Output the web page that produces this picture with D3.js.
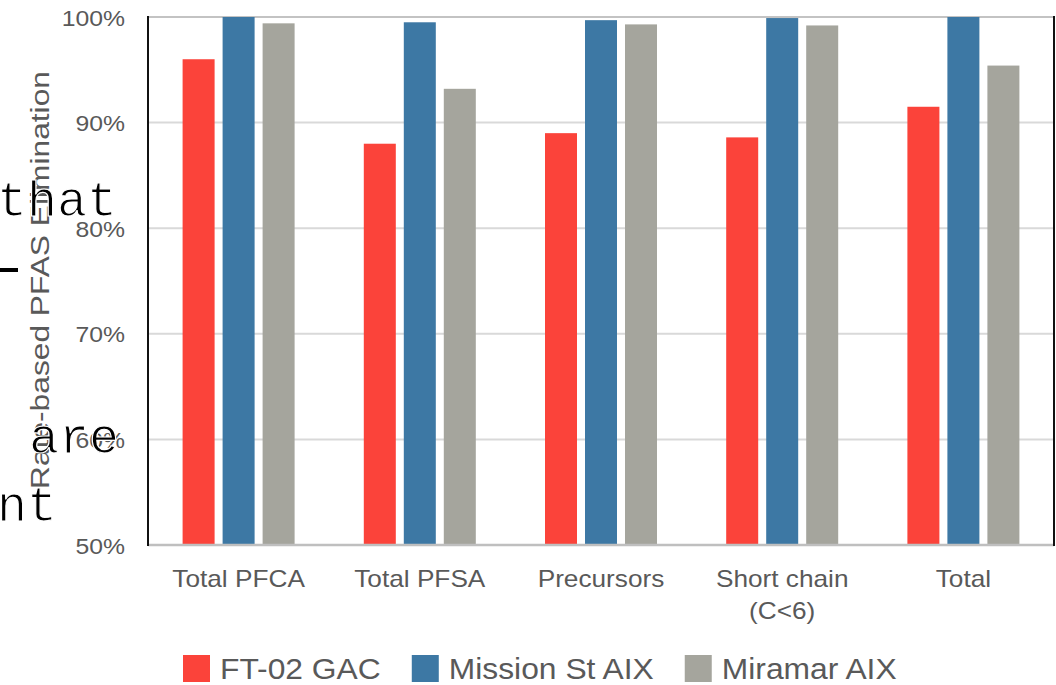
<!DOCTYPE html>
<html lang="en">
<head>
<meta charset="UTF-8">
<title>Rate-based PFAS Elimination</title>
<script src="https://d3js.org/d3.v7.min.js"></script>
<style>
  body { margin: 0; background: #fff; }
  svg { display: block; font-family: "Liberation Sans", Arial, sans-serif; }
  .mono { font-family: "Liberation Mono", "Courier New", monospace; }
</style>
</head>
<body>
<svg width="1056" height="685"></svg>
<script>
    // data
    const categories = ["Total PFCA", "Total PFSA", "Precursors", "Short chain\n(C<6)", "Total"];
    const series = ["FT-02 GAC", "Mission St AIX", "Miramar AIX"];
    const colors = ["#FB433A", "#3D78A4", "#A5A59D"];
    const ft02 = [96.0, 88.0, 89.0, 88.6, 91.5];
    const mission = [100.0, 99.5, 99.7, 99.9, 100.0];
    const miramar = [99.4, 93.2, 99.3, 99.2, 95.4];
    const yTicks = [50, 60, 70, 80, 90, 100];
    const yTitle = "Rate-based PFAS Elimination";
    const textColor = "#595959";

    const values = [ft02, mission, miramar];

    let svg = d3.select("svg");
    let plotLeft = 148, plotRight = 1054, plotTop = 17, plotBottom = 545;

    let x0 = d3.scaleBand().domain(categories).range([plotLeft, plotRight]);
    let x1 = d3.scaleBand().domain(series).range([0, 120]).paddingInner(0.2).paddingOuter(0.1);
    let y = d3.scaleLinear().domain([50, 100]).range([plotBottom, plotTop]);

    // helper: squeeze/stretch a text horizontally like the picture
    function place(sel, x, yy, sx) {
        sel.attr("transform", `translate(${x},${yy}) scale(${sx},1)`);
    }

    // gridlines
    svg.append("g")
        .selectAll("line")
        .data(yTicks.filter(d => d > 50))
        .enter()
        .append("line")
        .attr("x1", plotLeft).attr("x2", plotRight)
        .attr("y1", d => y(d)).attr("y2", d => y(d))
        .attr("stroke", d => d === 100 ? "#c3c3c3" : "#d9d9d9")
        .attr("stroke-width", 2);

    // bars
    let groups = svg.append("g")
        .selectAll("g")
        .data(categories)
        .enter()
        .append("g")
        .attr("transform", d => `translate(${x0(d) + x0.bandwidth() / 2 - 60},0)`);

    groups.selectAll("rect")
        .data((c, i) => series.map((s, j) => ({ s: s, j: j, v: values[j][i] })))
        .enter()
        .append("rect")
        .attr("x", d => x1(d.s))
        .attr("width", x1.bandwidth())
        .attr("y", d => y(d.v))
        .attr("height", d => plotBottom - y(d.v))
        .attr("fill", d => colors[d.j]);

    // bottom axis line
    svg.append("line")
        .attr("x1", plotLeft).attr("x2", plotRight)
        .attr("y1", plotBottom).attr("y2", plotBottom)
        .attr("stroke", "#bfbfbf").attr("stroke-width", 2.5);

    // dark frame edges left and right
    svg.append("line")
        .attr("x1", plotLeft).attr("x2", plotLeft).attr("y1", plotTop - 1).attr("y2", plotBottom + 1)
        .attr("stroke", "#111").attr("stroke-width", 2);
    svg.append("line")
        .attr("x1", plotRight).attr("x2", plotRight).attr("y1", plotTop - 1).attr("y2", plotBottom + 1)
        .attr("stroke", "#111").attr("stroke-width", 2);

    // y axis labels
    let yAxis = svg.append("g")
        .attr("transform", `translate(${plotLeft},0)`)
        .call(d3.axisLeft(y).tickValues(yTicks).tickFormat(d => d + "%").tickSize(0));
    yAxis.select(".domain").remove();
    yAxis.selectAll("text")
        .attr("x", -23 / 1.1)
        .attr("dy", "0.36em")
        .attr("transform", "scale(1.1,1)")
        .attr("fill", textColor)
        .style("font-family", "Liberation Sans, Arial, sans-serif")
        .style("font-size", "22.5px");

    // x labels
    let xl = svg.append("g")
        .selectAll("text")
        .data(categories)
        .enter()
        .append("text")
        .attr("text-anchor", "middle")
        .attr("fill", textColor)
        .style("font-size", "23px")
        .each(function (d) {
            place(d3.select(this), x0(d) + x0.bandwidth() / 2, 587, 1.14);
        });
    xl.selectAll("tspan")
        .data(d => d.split("\n"))
        .enter()
        .append("tspan")
        .attr("x", 0)
        .attr("dy", (d, i) => i === 0 ? 0 : 32)
        .text(d => d);

    // y title
    let yt = svg.append("text")
        .attr("text-anchor", "middle")
        .attr("fill", textColor)
        .style("font-size", "26px")
        .text(yTitle);
    let ytLen = yt.node().getComputedTextLength();
    yt.attr("transform", `translate(49,280) rotate(-90) scale(${418 / ytLen},1)`);

    // legend
    let lx = 183;
    series.forEach((s, i) => {
        svg.append("rect")
            .attr("x", lx).attr("y", 655)
            .attr("width", 27).attr("height", 27)
            .attr("fill", colors[i]);
        let t = svg.append("text")
            .attr("fill", textColor)
            .style("font-size", "30px")
            .text(s);
        place(t, lx + 37, 679, 1.06);
        lx += 37 + t.node().getComputedTextLength() * 1.06 + 31;
    });

    // stray page text showing through on the left of the picture
    let overlay = svg.append("g").attr("class", "mono")
        .attr("fill", "#000")
        .attr("stroke", "#fff").attr("stroke-width", 1.2);
    const strayText = [["that", -3, 216], ["are", 29, 453], ["nt", -3, 521]];
    overlay.selectAll("text")
        .data(strayText)
        .enter()
        .append("text")
        .attr("x", d => d[1])
        .attr("y", d => d[2])
        .style("font-size", "50px")
        .text(d => d[0]);
    overlay.append("rect")
        .attr("x", 0).attr("y", 268)
        .attr("width", 18).attr("height", 4)
        .attr("stroke", "none");
</script>
</body>
</html>
